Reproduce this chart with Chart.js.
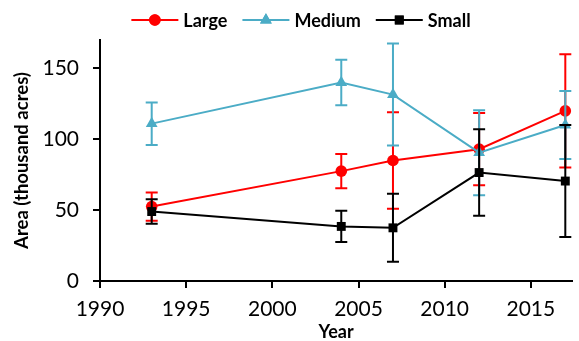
<!DOCTYPE html>
<html>
<head>
<meta charset="utf-8">
<script src="https://cdn.jsdelivr.net/npm/chart.js@4.4.0/dist/chart.umd.min.js"></script>
<style>
  html, body { margin: 0; padding: 0; background: #fff; }
  #wrap { width: 579px; height: 341px; position: relative; }
</style>
</head>
<body>
<div id="wrap"><canvas id="chart"></canvas></div>
<script>
// Survey years and values (thousand acres), with +/- error amounts
const years = [1993, 2004, 2007, 2012, 2017];
const largeVals = [52.5, 77.5, 85, 93, 120];
const largeErr = [10, 12, 34, 25.5, 40];
const mediumVals = [111, 140, 131.5, 90.5, 110];
const mediumErr = [15, 16, 36, 30, 24];
const smallVals = [49, 38.5, 37.5, 76.5, 70.5];
const smallErr = [8.7, 11, 24, 30.5, 39.5];
const xTicks = [1990, 1995, 2000, 2005, 2010, 2015];
const yTicks = [0, 50, 100, 150];

const font = 'Lato';
const pts = vals => vals.map((v, i) => ({ x: years[i], y: v }));

const series = [
  { label: 'Large', vals: largeVals, err: largeErr, color: '#FF0000', style: 'circle', r: 5.8 },
  { label: 'Medium', vals: mediumVals, err: mediumErr, color: '#4BACC6', style: 'triangle', r: 6.8 },
  { label: 'Small', vals: smallVals, err: smallErr, color: '#000000', style: 'rect', r: 6.3 }
];

// error bars drawn under each dataset, from the same scales
const errorBars = {
  id: 'errorBars',
  beforeDatasetDraw(chart, args) {
    const s = series[args.index];
    const xs = chart.scales.x, ys = chart.scales.y;
    const ctx = chart.ctx;
    ctx.save();
    ctx.strokeStyle = s.color;
    ctx.lineWidth = 2;
    s.vals.forEach((v, i) => {
      const x = xs.getPixelForValue(years[i]);
      const top = ys.getPixelForValue(v + s.err[i]);
      const bot = ys.getPixelForValue(v - s.err[i]);
      ctx.beginPath();
      ctx.moveTo(x, top); ctx.lineTo(x, bot);
      ctx.moveTo(x - 6, top); ctx.lineTo(x + 6, top);
      ctx.moveTo(x - 6, bot); ctx.lineTo(x + 6, bot);
      ctx.stroke();
    });
    ctx.restore();
  }
};

// legend with line + marker, centred above the plot
const lineLegend = {
  id: 'lineLegend',
  afterDraw(chart) {
    const ctx = chart.ctx;
    ctx.save();
    ctx.font = 'bold 18px ' + font;
    ctx.textBaseline = 'middle';
    const lineW = 47, gap = 5, itemGap = 15, y = 20;
    const widths = series.map(s => lineW + gap + ctx.measureText(s.label).width);
    const total = widths.reduce((a, b) => a + b, 0) + itemGap * (series.length - 1);
    let x = 301 - total / 2;
    series.forEach((s, i) => {
      ctx.strokeStyle = s.color;
      ctx.lineWidth = 2;
      ctx.beginPath();
      ctx.moveTo(x, y); ctx.lineTo(x + lineW, y);
      ctx.stroke();
      ctx.fillStyle = s.color;
      Chart.helpers.drawPoint(ctx, { pointStyle: s.style, radius: s.r, borderWidth: 0, rotation: 0 }, x + lineW / 2, y);
      ctx.fill();
      ctx.fillStyle = '#000';
      ctx.fillText(s.label, x + lineW + gap, y + 1);
      x += widths[i] + itemGap;
    });
    ctx.restore();
  }
};

new Chart(document.getElementById('chart'), {
  type: 'line',
  data: {
    datasets: series.map((s, i) => ({
      label: s.label,
      data: pts(s.vals),
      borderColor: s.color,
      backgroundColor: s.color,
      borderWidth: 2,
      pointStyle: s.style,
      pointRadius: s.r,
      pointHoverRadius: s.r,
      pointBorderWidth: 0,
      tension: 0,
      clip: false,
      order: 3 - i
    }))
  },
  options: {
    responsive: true,
    maintainAspectRatio: false,
    animation: false,
    events: [],
    layout: { padding: { top: 40, right: 0, left: 0, bottom: 0 } },
    plugins: { legend: { display: false }, tooltip: { enabled: false } },
    scales: {
      x: {
        type: 'linear',
        min: 1990,
        max: 2017.4,
        afterBuildTicks: s => { s.ticks = xTicks.map(v => ({ value: v })); },
        afterFit: s => { s.height = 60; },
        grid: { drawOnChartArea: false, tickLength: 7, color: '#000', lineWidth: 2 },
        border: { color: '#000', width: 2 },
        ticks: { color: '#000', padding: 9, maxRotation: 0, callback: v => String(v),
                 font: { family: font, size: 21 } },
        title: { display: true, text: 'Year', color: '#000', padding: { top: 0, bottom: 0 },
                 font: { family: font, size: 18, weight: 'bold', lineHeight: 1 } }
      },
      y: {
        min: 0,
        max: 170,
        afterBuildTicks: s => { s.ticks = yTicks.map(v => ({ value: v })); },
        afterFit: s => { s.width = 100; },
        grid: { drawOnChartArea: false, tickLength: 7, color: '#000', lineWidth: 2 },
        border: { color: '#000', width: 2 },
        ticks: { color: '#000', padding: 14, font: { family: font, size: 21 } },
        title: { display: true, text: 'Area (thousand acres)', color: '#000', padding: { top: 11, bottom: 0 },
                 font: { family: font, size: 18.5, weight: 'bold' } }
      }
    }
  },
  plugins: [errorBars, lineLegend]
});
</script>
</body>
</html>
